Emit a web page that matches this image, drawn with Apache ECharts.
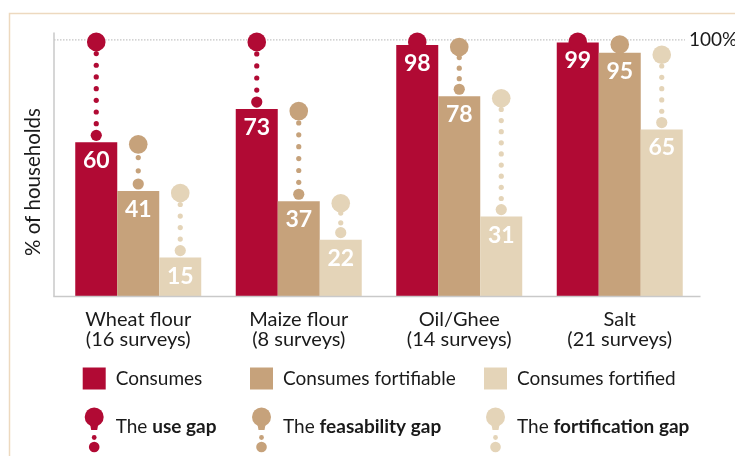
<!DOCTYPE html>
<html><head><meta charset="utf-8">
<script src="https://cdn.jsdelivr.net/npm/echarts@6/dist/echarts.min.js"></script>
<style>html,body{margin:0;padding:0;background:#fff}#c{width:735px;height:456px}</style>
</head><body><div id="c"></div>
<script>
// ---- data ----
const categories = ['Wheat flour\n(16 surveys)', 'Maize flour\n(8 surveys)', 'Oil/Ghee\n(14 surveys)', 'Salt\n(21 surveys)'];
const consumes = [60, 73, 98, 99];
const fortifiable = [41, 37, 78, 95];
const fortified = [15, 22, 31, 65];
const fullScale = 100;
const fullScaleLabel = '100%';
const seriesNames = ['Consumes', 'Consumes fortifiable', 'Consumes fortified'];
const gapPrefix = 'The ';
const gapNames = ['use gap', 'feasability gap', 'fortification gap'];
const yAxisTitle = '% of households';

// ---- styles ----
const colors = ['#b10a34', '#c6a27b', '#e4d4b8'];
const FONT = 'Lato';
const TXT = '#1a1a1a';
const CAT_GAP = 0.215;

const barData = [consumes, fortifiable, fortified];
const gapTops = [consumes.map(() => fullScale), consumes, fortifiable];
const gapData = [];
for (let k = 0; k < 3; k++) {
  for (let i = 0; i < categories.length; i++) {
    gapData.push([i, barData[k][i], gapTops[k][i], k]);
  }
}

const chart = echarts.init(document.getElementById('c'), null, {renderer: 'canvas'});

function renderGap(params, api) {
  const i = api.value(0), val = api.value(1), top = api.value(2), k = api.value(3);
  const band = api.size([1, 0])[0];
  const bw = band * (1 - CAT_GAP) / 3;
  const x = api.coord([i, 0])[0] + (k - 1) * bw;
  const yTop = api.coord([i, top])[1] + 2;
  const yBar = api.coord([i, val])[1] - 7;
  const color = colors[k];
  const children = [];
  const gap = yBar - yTop;
  if (gap > 12) {
    const n = Math.round(gap / 11.6);
    for (let j = 1; j < n; j++) {
      children.push({type: 'circle', shape: {cx: x, cy: yTop + gap * j / n, r: 2.6}, style: {fill: color}});
    }
    children.push({type: 'circle', shape: {cx: x, cy: yBar, r: 5.6}, style: {fill: color}});
  }
  children.push({type: 'circle', shape: {cx: x, cy: yTop, r: 9.3}, style: {fill: color}});
  return {type: 'group', children: children};
}

const barSeries = [0, 1, 2].map(k => ({
  type: 'bar',
  name: seriesNames[k],
  data: barData[k],
  barGap: '0%',
  barCategoryGap: (CAT_GAP * 100) + '%',
  itemStyle: {color: colors[k]},
  z: 2,
  label: {
    show: true, position: 'insideTop', distance: 7,
    color: '#fff', fontSize: 23, fontFamily: FONT, fontWeight: 'bold'
  }
}));

// legend graphics
const legendX = [82.7, 250, 484];
const legendEls = [];
for (let k = 0; k < 3; k++) {
  const sx = legendX[k];
  const cx = sx + 11.5;
  legendEls.push({type: 'rect', shape: {x: sx, y: 367.5, width: 23, height: 22}, style: {fill: colors[k]}});
  legendEls.push({type: 'text', x: sx + 33, y: 379, style: {text: seriesNames[k], fill: TXT, font: '19px ' + FONT, textVerticalAlign: 'middle'}});
  legendEls.push({type: 'circle', shape: {cx: cx, cy: 417, r: 9.5}, style: {fill: colors[k]}});
  legendEls.push({type: 'polygon', shape: {points: [[cx - 4.5, 422], [cx + 4.5, 422], [cx + 3, 430], [cx - 3, 430]]}, style: {fill: colors[k]}});
  legendEls.push({type: 'circle', shape: {cx: cx, cy: 437.5, r: 2.4}, style: {fill: colors[k]}});
  legendEls.push({type: 'circle', shape: {cx: cx, cy: 447, r: 5.3}, style: {fill: colors[k]}});
  legendEls.push({type: 'text', x: sx + 33, y: 427, style: {
    text: gapPrefix + '{b|' + gapNames[k] + '}', fill: TXT, font: '19px ' + FONT, textVerticalAlign: 'middle',
    rich: {b: {fontFamily: FONT, fontSize: 19, fontWeight: 'bold', fill: TXT}}
  }});
}

chart.setOption({
  animation: false,
  backgroundColor: '#fff',
  grid: {left: 58, width: 642, top: 33, height: 263},
  xAxis: {
    type: 'category', data: categories,
    axisLine: {show: false}, axisTick: {show: false},
    axisLabel: {color: TXT, fontSize: 20, fontFamily: FONT, lineHeight: 20, margin: 14}
  },
  yAxis: {
    type: 'value', min: 0, max: 102.7, offset: 4,
    axisLine: {show: true, lineStyle: {color: '#c9c9c9', width: 1.5}},
    axisTick: {show: false}, axisLabel: {show: false}, splitLine: {show: false}
  },
  series: barSeries.concat([{
    type: 'custom', renderItem: renderGap, data: gapData, encode: {x: 0, y: 1}, z: 3, clip: false
  }])
});

const y100 = chart.convertToPixel({yAxisIndex: 0}, fullScale);
const y0 = chart.convertToPixel({yAxisIndex: 0}, 0);
chart.setOption({
  graphic: [
    {type: 'rect', z: 0, shape: {x: 9.5, y: 13.5, width: 900, height: 600}, style: {fill: null, stroke: '#edd9bf', lineWidth: 1.5}},
    {type: 'line', z: 0, shape: {x1: 54, y1: y100, x2: 685, y2: y100}, style: {stroke: '#b5b5b5', lineWidth: 1, lineDash: [1.5, 1.5]}},
    {type: 'text', z: 5, x: 689, y: y100, style: {text: fullScaleLabel, fill: TXT, font: '19px ' + FONT, textVerticalAlign: 'middle'}},
    {type: 'line', z: 5, shape: {x1: 53.3, y1: y0 + 0.5, x2: 700.5, y2: y0 + 0.5}, style: {stroke: '#c9c9c9', lineWidth: 1.5}},
    {type: 'text', z: 5, x: 33, y: 182, rotation: Math.PI / 2, style: {text: yAxisTitle, fill: TXT, font: '20.5px ' + FONT, textAlign: 'center', textVerticalAlign: 'middle'}}
  ].concat(legendEls)
});
</script></body></html>
